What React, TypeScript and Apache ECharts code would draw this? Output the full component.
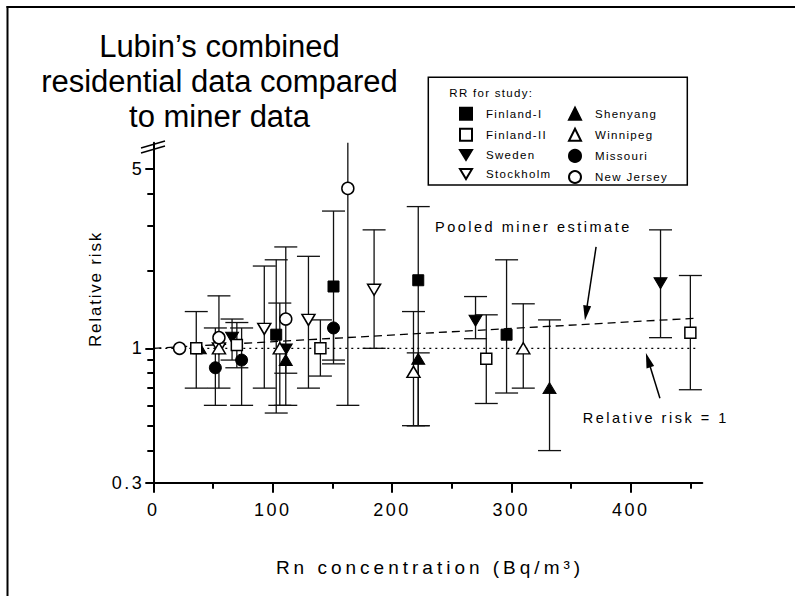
import React, { useEffect, useRef } from "react";
import * as echarts from "echarts";

// ---- axes ----
const X_MAJOR_TICKS = [0, 100, 200, 300, 400];
const X_MINOR_TICKS = [50, 150, 250, 350, 450];
const Y_LABEL_VALUES = [0.3, 1, 5];
const Y_MINOR_VALUES = [0.4, 0.5, 0.6, 0.7, 0.8, 0.9, 2, 3, 4];
const X_MIN = 0;
const X_MAX = 460;
const Y_MIN = 0.3;
const Y_MAX = 6.31;

// ---- studies: [Rn concentration (Bq/m3), RR, lower CI, upper CI] ----
const FINLAND_I = [[103, 1.13, 0.56, 2.21], [151, 1.74, 0.87, 3.42], [222, 1.84, 0.5, 3.56], [296, 1.13, 0.67, 2.21]];
const FINLAND_II = [[36, 1.0, 0.7, 1.39], [70, 1.03, 0.84, 1.26], [140, 1.0, 0.78, 1.29], [279, 0.91, 0.61, 1.35], [450, 1.15, 0.69, 1.92]];
const SWEDEN = [[66, 1.1, 0.9, 1.3], [111, 0.99, null, null], [270, 1.28, 1.09, 1.59], [425, 1.79, 1.1, 2.89]];
const STOCKHOLM = [[55, 1.0, null, null], [93, 1.19, 0.7, 2.09], [130, 1.29, 0.7, 2.28], [185, 1.69, 1.0, 2.89]];
const SHENYANG = [[39, 1.0, null, null], [111, 0.9, 0.8, null], [222, 0.91, 0.5, 0.96], [332, 0.7, 0.4, 1.29]];
const WINNIPEG = [[55, 1.0, null, null], [106, 1.0, 0.6, 1.5], [218, 0.81, 0.5, 1.39], [310, 1.0, 0.7, 1.49]];
const MISSOURI = [[52, 0.84, 0.6, 1.2], [74, 0.9, 0.6, 1.2], [151, 1.2, 0.9, null]];
const NEW_JERSEY = [[22, 1.0, null, null], [55, 1.1, 0.7, 1.6], [111, 1.3, 0.6, 2.48], [163, 4.19, 0.6, 8.0]];

// ---- reference lines & arrows: [Rn, RR] ----
const REF_LINE = [[0, 1], [455, 1]];
const POOLED_LINE = [[0, 1], [455, 1.31]];
const ARROW_POOLED = [[371, 2.48], [362.6, 1.371]];
const ARROW_REF = [[424.5, 0.639], [414.6, 0.9]];

const LEGEND_COL1 = ["Finland-I", "Finland-II", "Sweden", "Stockholm"];
const LEGEND_COL2 = ["Shenyang", "Winnipeg", "Missouri", "New Jersey"];

const F_TITLE = "Liberation Sans";
const F_TICK = "Liberation Sans, Tahoma";
const F_NAME = "Liberation Sans, Verdana";
const F_YNAME = "Liberation Sans, Optima";
const F_NOTE = "Liberation Sans, Geneva";
const F_LEG = "Liberation Sans, Helvetica";

const CSS = `
#root text[style*="Tahoma"]{letter-spacing:2.5px}
#root text[style*="Verdana"]{letter-spacing:4px}
#root text[style*="Optima"]{letter-spacing:1.8px}
#root text[style*="Geneva"]{letter-spacing:2.5px}
#root text[style*="Helvetica"]{letter-spacing:1.3px}
`;

const L = (v: number) => Math.log10(v);
const DOWN_TRI = "path://M0,0L12,0L6,10Z";
const ARROW_HEAD = "path://M5,0L10,20L0,20Z";

type Row = (number | null)[];
const STUDIES: { name: string; data: Row[]; symbol: string; size: number | number[]; filled: boolean }[] = [
  { name: "Shenyang", data: SHENYANG, symbol: "triangle", size: [13, 11], filled: true },
  { name: "Sweden", data: SWEDEN, symbol: DOWN_TRI, size: [13, 11], filled: true },
  { name: "Finland-I", data: FINLAND_I, symbol: "rect", size: 11, filled: true },
  { name: "Missouri", data: MISSOURI, symbol: "circle", size: 12, filled: true },
  { name: "Finland-II", data: FINLAND_II, symbol: "rect", size: 11, filled: false },
  { name: "Stockholm", data: STOCKHOLM, symbol: DOWN_TRI, size: [13, 11], filled: false },
  { name: "Winnipeg", data: WINNIPEG, symbol: "triangle", size: [13, 11], filled: false },
  { name: "New Jersey", data: NEW_JERSEY, symbol: "circle", size: 12, filled: false },
];

function buildOption(): any {
  const yMinL = L(Y_MIN);
  const yMaxL = L(Y_MAX);

  const errData: number[][] = [];
  STUDIES.forEach((s) => {
    s.data.forEach((d) => {
      const [x, rr, lo, hi] = d as number[];
      if (lo == null && hi == null) return;
      errData.push([x, L(rr), L(lo ?? rr), L(hi ?? rr), lo != null ? 1 : 0, hi != null ? 1 : 0]);
    });
  });

  const barStyle = { stroke: "#111", lineWidth: 1.3 };
  const errorSeries = {
    type: "custom",
    name: "errors",
    silent: true,
    z: 1,
    data: errData,
    encode: { x: 0, y: 1 },
    renderItem: (_p: any, api: any) => {
      const x = api.value(0);
      const lo = api.value(2);
      let hi = api.value(3);
      const capLo = api.value(4) === 1;
      let capHi = api.value(5) === 1;
      if (hi > yMaxL) {
        hi = yMaxL;
        capHi = false;
      }
      const pLo = api.coord([x, lo]);
      const pHi = api.coord([x, hi]);
      const hw = 11.5;
      const children: any[] = [
        { type: "line", shape: { x1: pLo[0], y1: pLo[1], x2: pHi[0], y2: pHi[1] }, style: barStyle },
      ];
      if (capLo) children.push({ type: "line", shape: { x1: pLo[0] - hw, y1: pLo[1], x2: pLo[0] + hw, y2: pLo[1] }, style: barStyle });
      if (capHi) children.push({ type: "line", shape: { x1: pHi[0] - hw, y1: pHi[1], x2: pHi[0] + hw, y2: pHi[1] }, style: barStyle });
      return { type: "group", children };
    },
  };

  const scatterSeries = STUDIES.map((s) => ({
    type: "scatter",
    name: s.name,
    z: 3,
    symbol: s.symbol,
    symbolSize: s.size,
    data: s.data.map((d) => [d[0] as number, L(d[1] as number)]),
    itemStyle: s.filled
      ? { color: "#000", borderColor: "#000", borderWidth: 1, opacity: 1 }
      : { color: "#fff", borderColor: "#000", borderWidth: 1.5, opacity: 1 },
    emphasis: { disabled: true },
  }));

  const toLog = (arr: number[][]) => arr.map((p) => [p[0], L(p[1])]);

  const refSeries = {
    type: "line",
    name: "ref",
    silent: true,
    z: 2,
    showSymbol: false,
    symbol: "none",
    data: toLog(REF_LINE),
    lineStyle: { color: "#000", width: 1.3, type: [2, 4] },
  };
  const pooledSeries = {
    type: "line",
    name: "pooled",
    silent: true,
    z: 2,
    showSymbol: false,
    symbol: "none",
    data: toLog(POOLED_LINE),
    lineStyle: { color: "#000", width: 1.3, type: [8, 5] },
    markLine: {
      silent: true,
      animation: false,
      symbol: ["none", ARROW_HEAD],
      symbolSize: [8, 15],
      label: { show: false },
      lineStyle: { color: "#000", width: 1.5, type: "solid" },
      itemStyle: { color: "#000" },
      data: [
        [{ coord: toLog(ARROW_POOLED)[0] }, { coord: toLog(ARROW_POOLED)[1] }],
        [{ coord: toLog(ARROW_REF)[0] }, { coord: toLog(ARROW_REF)[1] }],
      ],
    },
  };

  const yLabelFormatter = (v: number) => {
    const r = Math.pow(10, v);
    let best = Y_LABEL_VALUES[0];
    Y_LABEL_VALUES.forEach((c) => {
      if (Math.abs(Math.log(c / r)) < Math.abs(Math.log(best / r))) best = c;
    });
    return String(best);
  };

  const legendCommon = {
    orient: "vertical",
    itemWidth: 12,
    itemHeight: 12,
    itemGap: 7.1,
    padding: 0,
    selectedMode: false,
    itemStyle: { opacity: 1 },
    textStyle: { fontFamily: F_LEG, fontSize: 11.5, color: "#000", lineHeight: 12, padding: [0, 0, 0, 9] },
  };

  const textStyle = (fontFamily: string, fontSize: number, extra: any = {}) => ({
    fill: "#000",
    fontFamily,
    fontSize,
    ...extra,
  });

  return {
    animation: false,
    backgroundColor: "#fff",
    grid: { left: 153.3, top: 142.7, width: 549, height: 340, outerBoundsMode: "none", containLabel: false },
    xAxis: [
      {
        type: "value",
        min: X_MIN,
        max: X_MAX,
        interval: 100,
        position: "bottom",
        axisLine: { show: true, onZero: false, lineStyle: { color: "#000", width: 2 } },
        axisTick: { show: true, customValues: X_MAJOR_TICKS, length: 10, lineStyle: { color: "#000", width: 2 } },
        axisLabel: {
          show: true,
          customValues: X_MAJOR_TICKS,
          margin: 18,
          color: "#000",
          fontFamily: F_TICK,
          fontSize: 18,
          formatter: (v: number) => (X_MAJOR_TICKS.includes(Math.round(v)) ? String(Math.round(v)) : ""),
        },
        splitLine: { show: false },
      },
      {
        type: "value",
        min: X_MIN,
        max: X_MAX,
        interval: 50,
        position: "bottom",
        axisLine: { show: false, onZero: false },
        axisTick: { show: true, customValues: X_MINOR_TICKS, length: 6, lineStyle: { color: "#000", width: 2 } },
        axisLabel: { show: false },
        splitLine: { show: false },
      },
    ],
    yAxis: [
      {
        type: "value",
        min: yMinL,
        max: yMaxL,
        position: "left",
        axisLine: { show: true, onZero: false, lineStyle: { color: "#000", width: 2 } },
        axisTick: { show: true, customValues: Y_LABEL_VALUES.map(L), length: 8, lineStyle: { color: "#000", width: 2 } },
        axisLabel: {
          show: true,
          customValues: Y_LABEL_VALUES.map(L),
          margin: 9,
          color: "#000",
          fontFamily: F_TICK,
          fontSize: 18,
          formatter: yLabelFormatter,
        },
        splitLine: { show: false },
      },
      {
        type: "value",
        min: yMinL,
        max: yMaxL,
        position: "left",
        axisLine: { show: false, onZero: false },
        axisTick: { show: true, customValues: Y_MINOR_VALUES.map(L), length: 6, lineStyle: { color: "#000", width: 2 } },
        axisLabel: { show: false },
        splitLine: { show: false },
      },
    ],
    legend: [
      { ...legendCommon, data: LEGEND_COL1, left: 459, top: 106.7 },
      { ...legendCommon, data: LEGEND_COL2, left: 568, top: 106.7 },
    ],
    graphic: [
      // outer frame (top and left edges)
      { type: "line", shape: { x1: 6.5, y1: 7, x2: 795, y2: 7 }, style: { stroke: "#000", lineWidth: 2 } },
      { type: "line", shape: { x1: 7.5, y1: 6, x2: 7.5, y2: 596 }, style: { stroke: "#000", lineWidth: 2 } },
      // axis break marks
      { type: "line", shape: { x1: 141, y1: 148, x2: 165, y2: 141 }, style: { stroke: "#000", lineWidth: 1.5 } },
      { type: "line", shape: { x1: 141, y1: 153, x2: 165, y2: 146 }, style: { stroke: "#000", lineWidth: 1.5 } },
      // title
      {
        type: "text",
        x: 219.5,
        y: 28.5,
        style: textStyle(F_TITLE, 31, {
          text: "Lubin\u2019s combined\nresidential data compared\nto miner data",
          lineHeight: 35,
          align: "center",
          verticalAlign: "top",
        }),
      },
      // legend box + heading
      { type: "rect", shape: { x: 428.3, y: 77.3, width: 259, height: 107.7 }, style: { fill: "none", stroke: "#000", lineWidth: 1.5 } },
      {
        type: "text",
        x: 449.3,
        y: 93.3,
        style: textStyle(F_LEG, 11.5, { text: "RR for study:", align: "left", verticalAlign: "middle" }),
      },
      // annotations
      {
        type: "text",
        x: 435,
        y: 227.3,
        style: textStyle(F_NOTE, 14.5, { text: "Pooled miner estimate", align: "left", verticalAlign: "middle" }),
      },
      {
        type: "text",
        x: 582.7,
        y: 418.3,
        style: textStyle(F_NOTE, 14.5, { text: "Relative risk = 1", align: "left", verticalAlign: "middle" }),
      },
      // axis names
      {
        type: "text",
        x: 95,
        y: 289,
        rotation: Math.PI / 2,
        style: textStyle(F_YNAME, 17, { text: "Relative risk", align: "center", verticalAlign: "middle" }),
      },
      {
        type: "text",
        x: 430,
        y: 567,
        style: textStyle(F_NAME, 19, { text: "Rn concentration (Bq/m\u00B3)", align: "center", verticalAlign: "middle" }),
      },
    ],
    series: [refSeries, pooledSeries, errorSeries, ...scatterSeries],
  };
}

export default function App() {
  const ref = useRef<HTMLDivElement>(null);
  useEffect(() => {
    if (!ref.current) return;
    const chart = echarts.init(ref.current, null, { renderer: "svg" });
    chart.setOption(buildOption());
    return () => chart.dispose();
  }, []);
  return (
    <>
      <style>{CSS}</style>
      <div ref={ref} style={{ position: "absolute", left: 0, top: 0, width: 795, height: 596 }} />
    </>
  );
}
